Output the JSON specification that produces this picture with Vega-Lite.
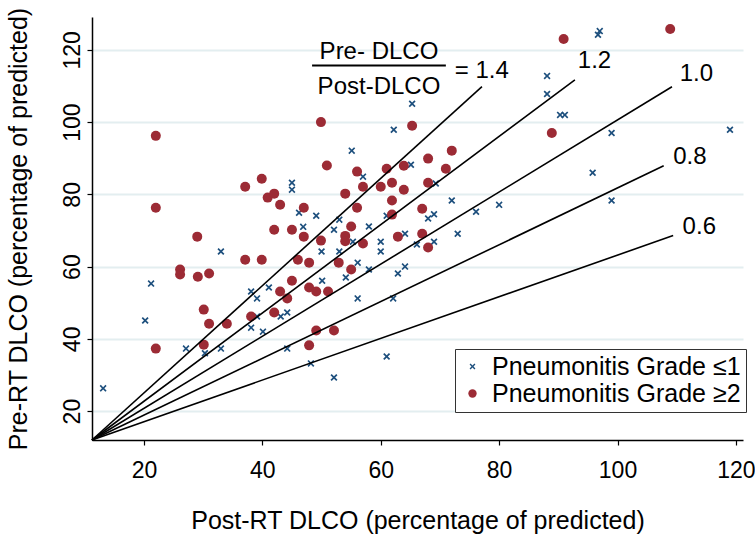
{
  "$schema": "https://vega.github.io/schema/vega-lite/v6.json",
  "width": 651,
  "height": 423,
  "autosize": {"type": "none"},
  "padding": {"left": 92, "top": 17, "right": 12, "bottom": 98},
  "background": "white",
  "datasets": {
    "pts": [
      {"x":13.1,"y":26.3,"g":"Pneumonitis Grade ≤1"},{"x":21.2,"y":55.3,"g":"Pneumonitis Grade ≤1"},{"x":20.2,"y":45.1,"g":"Pneumonitis Grade ≤1"},{"x":27.1,"y":37.3,"g":"Pneumonitis Grade ≤1"},{"x":30.3,"y":36,"g":"Pneumonitis Grade ≤1"},{"x":33,"y":37.3,"g":"Pneumonitis Grade ≤1"},{"x":33,"y":64.2,"g":"Pneumonitis Grade ≤1"},{"x":38.1,"y":53.1,"g":"Pneumonitis Grade ≤1"},{"x":39.1,"y":51.2,"g":"Pneumonitis Grade ≤1"},{"x":41.1,"y":54.2,"g":"Pneumonitis Grade ≤1"},{"x":38.1,"y":43.1,"g":"Pneumonitis Grade ≤1"},{"x":39.1,"y":46.2,"g":"Pneumonitis Grade ≤1"},{"x":40.1,"y":42,"g":"Pneumonitis Grade ≤1"},{"x":43.1,"y":46.2,"g":"Pneumonitis Grade ≤1"},{"x":44.2,"y":47.3,"g":"Pneumonitis Grade ≤1"},{"x":44.2,"y":37.3,"g":"Pneumonitis Grade ≤1"},{"x":50.1,"y":56.1,"g":"Pneumonitis Grade ≤1"},{"x":48.2,"y":33.2,"g":"Pneumonitis Grade ≤1"},{"x":52.1,"y":29.3,"g":"Pneumonitis Grade ≤1"},{"x":45,"y":83.2,"g":"Pneumonitis Grade ≤1"},{"x":45,"y":81.3,"g":"Pneumonitis Grade ≤1"},{"x":46.2,"y":74.9,"g":"Pneumonitis Grade ≤1"},{"x":49.1,"y":74.1,"g":"Pneumonitis Grade ≤1"},{"x":46.9,"y":71,"g":"Pneumonitis Grade ≤1"},{"x":52.1,"y":70.2,"g":"Pneumonitis Grade ≤1"},{"x":50,"y":64.2,"g":"Pneumonitis Grade ≤1"},{"x":53,"y":64.2,"g":"Pneumonitis Grade ≤1"},{"x":53,"y":73,"g":"Pneumonitis Grade ≤1"},{"x":58,"y":71.1,"g":"Pneumonitis Grade ≤1"},{"x":55.3,"y":66.9,"g":"Pneumonitis Grade ≤1"},{"x":56.1,"y":61.1,"g":"Pneumonitis Grade ≤1"},{"x":54.1,"y":57,"g":"Pneumonitis Grade ≤1"},{"x":58,"y":59.2,"g":"Pneumonitis Grade ≤1"},{"x":60,"y":66.9,"g":"Pneumonitis Grade ≤1"},{"x":60,"y":64.2,"g":"Pneumonitis Grade ≤1"},{"x":61,"y":74.1,"g":"Pneumonitis Grade ≤1"},{"x":64.1,"y":69.1,"g":"Pneumonitis Grade ≤1"},{"x":66.1,"y":66.1,"g":"Pneumonitis Grade ≤1"},{"x":68,"y":73.3,"g":"Pneumonitis Grade ≤1"},{"x":69,"y":74.5,"g":"Pneumonitis Grade ≤1"},{"x":69,"y":66.9,"g":"Pneumonitis Grade ≤1"},{"x":73,"y":69.1,"g":"Pneumonitis Grade ≤1"},{"x":76.1,"y":75.2,"g":"Pneumonitis Grade ≤1"},{"x":64.1,"y":60,"g":"Pneumonitis Grade ≤1"},{"x":62.9,"y":58.1,"g":"Pneumonitis Grade ≤1"},{"x":56.1,"y":51.2,"g":"Pneumonitis Grade ≤1"},{"x":62.1,"y":51.2,"g":"Pneumonitis Grade ≤1"},{"x":61,"y":35.1,"g":"Pneumonitis Grade ≤1"},{"x":96.7,"y":124.2,"g":"Pneumonitis Grade ≤1"},{"x":97,"y":125.2,"g":"Pneumonitis Grade ≤1"},{"x":88.1,"y":112.8,"g":"Pneumonitis Grade ≤1"},{"x":88.1,"y":107.8,"g":"Pneumonitis Grade ≤1"},{"x":90.3,"y":102,"g":"Pneumonitis Grade ≤1"},{"x":91.1,"y":102,"g":"Pneumonitis Grade ≤1"},{"x":65.3,"y":105.1,"g":"Pneumonitis Grade ≤1"},{"x":62.2,"y":97.9,"g":"Pneumonitis Grade ≤1"},{"x":55.1,"y":92.1,"g":"Pneumonitis Grade ≤1"},{"x":65.1,"y":88.2,"g":"Pneumonitis Grade ≤1"},{"x":57,"y":84.9,"g":"Pneumonitis Grade ≤1"},{"x":69.3,"y":83,"g":"Pneumonitis Grade ≤1"},{"x":72,"y":78.3,"g":"Pneumonitis Grade ≤1"},{"x":80,"y":77.1,"g":"Pneumonitis Grade ≤1"},{"x":95.8,"y":86,"g":"Pneumonitis Grade ≤1"},{"x":99,"y":97,"g":"Pneumonitis Grade ≤1"},{"x":119,"y":97.9,"g":"Pneumonitis Grade ≤1"},{"x":99,"y":78.3,"g":"Pneumonitis Grade ≤1"},
      {"x":22,"y":96.2,"g":"Pneumonitis Grade ≥2"},{"x":49.9,"y":100,"g":"Pneumonitis Grade ≥2"},{"x":50.9,"y":88,"g":"Pneumonitis Grade ≥2"},{"x":22,"y":76.3,"g":"Pneumonitis Grade ≥2"},{"x":39.9,"y":84.3,"g":"Pneumonitis Grade ≥2"},{"x":37.1,"y":82.1,"g":"Pneumonitis Grade ≥2"},{"x":40.9,"y":79.1,"g":"Pneumonitis Grade ≥2"},{"x":42,"y":80.2,"g":"Pneumonitis Grade ≥2"},{"x":43,"y":77.1,"g":"Pneumonitis Grade ≥2"},{"x":47,"y":76.3,"g":"Pneumonitis Grade ≥2"},{"x":42,"y":70.2,"g":"Pneumonitis Grade ≥2"},{"x":45,"y":70.2,"g":"Pneumonitis Grade ≥2"},{"x":47,"y":68.3,"g":"Pneumonitis Grade ≥2"},{"x":49.9,"y":67.2,"g":"Pneumonitis Grade ≥2"},{"x":29,"y":68.3,"g":"Pneumonitis Grade ≥2"},{"x":37.1,"y":61.9,"g":"Pneumonitis Grade ≥2"},{"x":39.9,"y":61.9,"g":"Pneumonitis Grade ≥2"},{"x":46,"y":61.9,"g":"Pneumonitis Grade ≥2"},{"x":47.9,"y":61.1,"g":"Pneumonitis Grade ≥2"},{"x":52.9,"y":61.1,"g":"Pneumonitis Grade ≥2"},{"x":26.1,"y":59.2,"g":"Pneumonitis Grade ≥2"},{"x":26.1,"y":57.8,"g":"Pneumonitis Grade ≥2"},{"x":29.1,"y":57.2,"g":"Pneumonitis Grade ≥2"},{"x":31,"y":58.1,"g":"Pneumonitis Grade ≥2"},{"x":30.1,"y":48.1,"g":"Pneumonitis Grade ≥2"},{"x":31,"y":44.2,"g":"Pneumonitis Grade ≥2"},{"x":34,"y":44.2,"g":"Pneumonitis Grade ≥2"},{"x":22,"y":37.3,"g":"Pneumonitis Grade ≥2"},{"x":30.1,"y":38.4,"g":"Pneumonitis Grade ≥2"},{"x":38.1,"y":46.2,"g":"Pneumonitis Grade ≥2"},{"x":42,"y":47.3,"g":"Pneumonitis Grade ≥2"},{"x":43,"y":53.1,"g":"Pneumonitis Grade ≥2"},{"x":44.2,"y":51.2,"g":"Pneumonitis Grade ≥2"},{"x":45,"y":56.1,"g":"Pneumonitis Grade ≥2"},{"x":47.9,"y":54.2,"g":"Pneumonitis Grade ≥2"},{"x":49.1,"y":53.1,"g":"Pneumonitis Grade ≥2"},{"x":51.1,"y":53.1,"g":"Pneumonitis Grade ≥2"},{"x":49.1,"y":42.3,"g":"Pneumonitis Grade ≥2"},{"x":52.1,"y":42.3,"g":"Pneumonitis Grade ≥2"},{"x":47.9,"y":38.2,"g":"Pneumonitis Grade ≥2"},{"x":90.9,"y":123,"g":"Pneumonitis Grade ≥2"},{"x":88.9,"y":97,"g":"Pneumonitis Grade ≥2"},{"x":65.3,"y":99,"g":"Pneumonitis Grade ≥2"},{"x":72,"y":92.1,"g":"Pneumonitis Grade ≥2"},{"x":68,"y":89.9,"g":"Pneumonitis Grade ≥2"},{"x":63.9,"y":87.9,"g":"Pneumonitis Grade ≥2"},{"x":61,"y":87.1,"g":"Pneumonitis Grade ≥2"},{"x":71,"y":87.1,"g":"Pneumonitis Grade ≥2"},{"x":56,"y":86.3,"g":"Pneumonitis Grade ≥2"},{"x":57,"y":82.1,"g":"Pneumonitis Grade ≥2"},{"x":60,"y":82.1,"g":"Pneumonitis Grade ≥2"},{"x":61.9,"y":83.2,"g":"Pneumonitis Grade ≥2"},{"x":63.9,"y":81.3,"g":"Pneumonitis Grade ≥2"},{"x":68,"y":83.2,"g":"Pneumonitis Grade ≥2"},{"x":54,"y":80.2,"g":"Pneumonitis Grade ≥2"},{"x":61.9,"y":78.3,"g":"Pneumonitis Grade ≥2"},{"x":56,"y":76.3,"g":"Pneumonitis Grade ≥2"},{"x":67,"y":76,"g":"Pneumonitis Grade ≥2"},{"x":61.9,"y":74.4,"g":"Pneumonitis Grade ≥2"},{"x":55,"y":71.1,"g":"Pneumonitis Grade ≥2"},{"x":54,"y":68.5,"g":"Pneumonitis Grade ≥2"},{"x":54,"y":67,"g":"Pneumonitis Grade ≥2"},{"x":57,"y":66.4,"g":"Pneumonitis Grade ≥2"},{"x":55,"y":59.2,"g":"Pneumonitis Grade ≥2"},{"x":62.9,"y":68.3,"g":"Pneumonitis Grade ≥2"},{"x":67,"y":69.1,"g":"Pneumonitis Grade ≥2"},{"x":68,"y":65.3,"g":"Pneumonitis Grade ≥2"},{"x":108.9,"y":125.8,"g":"Pneumonitis Grade ≥2"}
    ],
    "lines": [
      {"r":"1.4","x":11.22,"y":12},{"r":"1.4","x":77.1,"y":109.8},
      {"r":"1.2","x":11.22,"y":12},{"r":"1.2","x":92.8,"y":111.7},
      {"r":"1.0","x":11.22,"y":12},{"r":"1.0","x":109.2,"y":109.8},
      {"r":"0.8","x":11.22,"y":12},{"r":"0.8","x":107.8,"y":87.9},
      {"r":"0.6","x":11.22,"y":12},{"r":"0.6","x":109.4,"y":68.6}
    ],
    "leftLabels": [
      {"t":"= 1.4","x":72.5,"y":112.3},
      {"t":"1.2","x":93.3,"y":115.0},
      {"t":"1.0","x":110.5,"y":111.4},
      {"t":"0.8","x":109.4,"y":88.5},
      {"t":"0.6","x":111.0,"y":68.9}
    ],
    "centerLabels": [
      {"t":"Pre- DLCO","x":59.7,"y":117.4},
      {"t":"Post-DLCO","x":59.7,"y":107.8}
    ],
    "fracBar": [
      {"x":48.4,"x2":71.0,"y":115.65}
    ]
  },
  "encoding": {
    "x": {
      "field": "x", "type": "quantitative",
      "scale": {"domain": [11.22, 121.2], "nice": false, "zero": false},
      "axis": {
        "title": "Post-RT DLCO (percentage of predicted)",
        "values": [20, 40, 60, 80, 100, 120],
        "grid": false,
        "labelFlush": false,
        "labelPadding": 14,
        "titleY": 88,
        "titleBaseline": "alphabetic"
      }
    },
    "y": {
      "field": "y", "type": "quantitative",
      "scale": {"domain": [12, 129.1], "nice": false, "zero": false},
      "axis": {
        "title": "Pre-RT DLCO (percentage of predicted)",
        "values": [20, 40, 60, 80, 100, 120],
        "grid": true,
        "gridColor": "#e3eef0",
        "gridWidth": 2,
        "labelAngle": -90,
        "labelPadding": 3,
        "titleX": -66,
        "titleBaseline": "alphabetic"
      }
    }
  },
  "layer": [
    {
      "data": {"name": "pts"},
      "mark": {"type": "point", "filled": true, "opacity": 1, "size": 100},
      "encoding": {
        "color": {
          "field": "g", "type": "nominal",
          "scale": {"domain": ["Pneumonitis Grade ≤1", "Pneumonitis Grade ≥2"], "range": ["#1d4f7d", "#9c2b35"]},
          "legend": {"title": null}
        },
        "shape": {
          "field": "g", "type": "nominal",
          "scale": {"domain": ["Pneumonitis Grade ≤1", "Pneumonitis Grade ≥2"], "range": ["M-0.46,-0.7L0,-0.24L0.46,-0.7L0.7,-0.46L0.24,0L0.7,0.46L0.46,0.7L0,0.24L-0.46,0.7L-0.7,0.46L-0.24,0L-0.7,-0.46Z", "circle"]},
          "legend": {"title": null}
        }
      }
    },
    {
      "data": {"name": "lines"},
      "mark": {"type": "line", "color": "black", "strokeWidth": 1.6},
      "encoding": {"detail": {"field": "r", "type": "nominal"}}
    },
    {
      "data": {"name": "fracBar"},
      "mark": {"type": "rule", "color": "black", "strokeWidth": 2},
      "encoding": {"x2": {"field": "x2"}}
    },
    {
      "data": {"name": "leftLabels"},
      "mark": {"type": "text", "align": "left", "baseline": "alphabetic", "fontSize": 24, "font": "Liberation Sans", "color": "black"},
      "encoding": {"text": {"field": "t", "type": "nominal"}}
    },
    {
      "data": {"name": "centerLabels"},
      "mark": {"type": "text", "align": "center", "baseline": "alphabetic", "fontSize": 24, "font": "Liberation Sans", "color": "black"},
      "encoding": {"text": {"field": "t", "type": "nominal"}}
    }
  ],
  "config": {
    "view": {"stroke": null},
    "font": "Liberation Sans",
    "axis": {
      "domainColor": "black",
      "domainWidth": 1.5,
      "tickColor": "black",
      "tickWidth": 1.2,
      "tickSize": 5,
      "labelFont": "Liberation Sans",
      "labelFontSize": 23,
      "labelColor": "black",
      "titleFont": "Liberation Sans",
      "titleFontSize": 25,
      "titleFontWeight": "normal",
      "titleColor": "black"
    },
    "legend": {
      "orient": "none",
      "legendX": 363,
      "legendY": 332,
      "fillColor": "white",
      "strokeColor": "#333333",
      "padding": 5,
      "labelFont": "Liberation Sans",
      "labelFontSize": 25,
      "labelColor": "black",
      "labelLimit": 400,
      "labelOffset": 7,
      "rowPadding": 1,
      "symbolSize": 70
    }
  }
}
